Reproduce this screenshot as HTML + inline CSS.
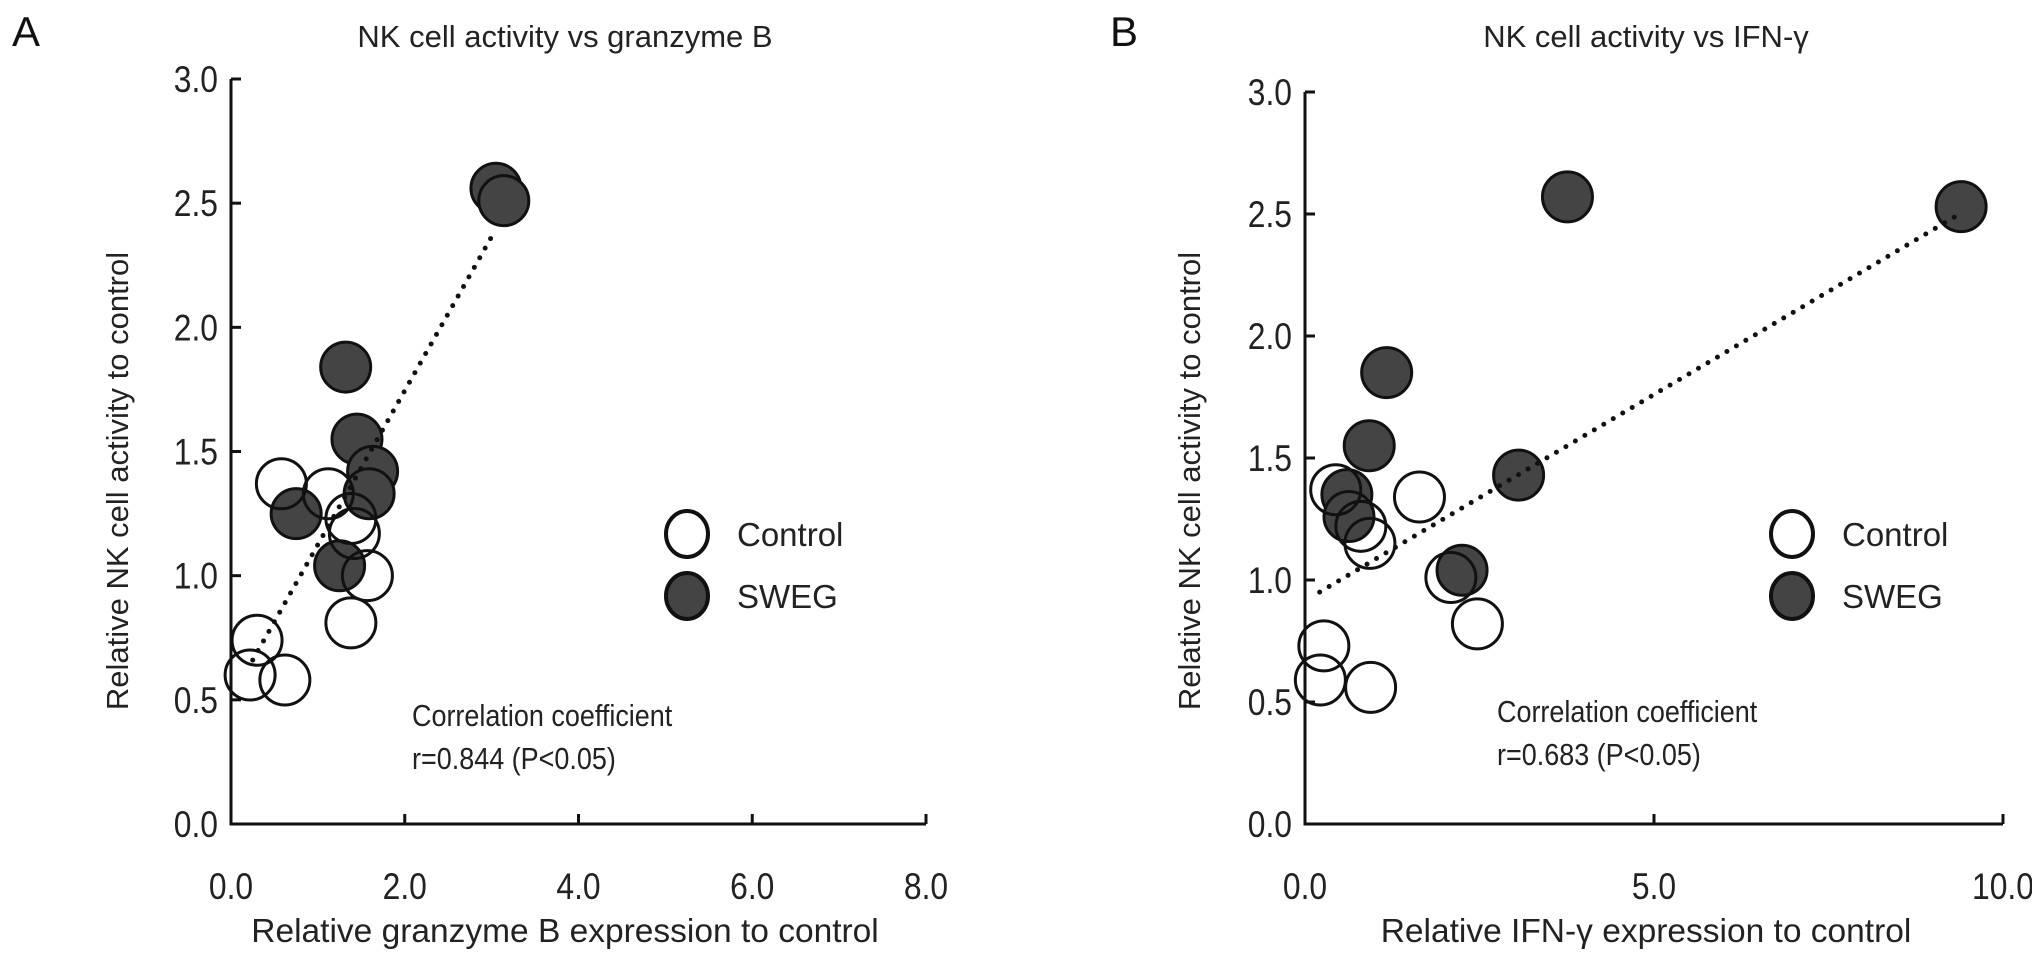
<!DOCTYPE html>
<html><head><meta charset="utf-8"><style>
html,body{margin:0;padding:0;background:#fff;}
svg{display:block;font-family:"Liberation Sans",sans-serif;}
</style></head><body>
<svg id="fig" width="2032" height="960" viewBox="0 0 2032 960"></svg>
<script>
// Panel A data
const aCtrlX=[0.58,1.12,1.38,1.42,1.57,1.38,0.30,0.22,0.62];
const aCtrlY=[1.37,1.33,1.23,1.17,1.00,0.81,0.74,0.60,0.58];
const aSwegX=[3.05,3.14,1.32,1.45,1.63,1.59,0.75,1.25];
const aSwegY=[2.56,2.51,1.84,1.55,1.42,1.33,1.25,1.04];
const aTrendX=[0.25,3.05];
const aTrendCoef=[0.505,0.62];
const aXTicks=[0,2,4,6,8];
const aXTickLabels=["0.0","2.0","4.0","6.0","8.0"];
const yTicks=[0,0.5,1,1.5,2,2.5,3];
const yTickLabels=["0.0","0.5","1.0","1.5","2.0","2.5","3.0"];
// Panel B data
const bCtrlX=[0.44,1.64,0.80,0.93,2.09,2.47,0.27,0.22,0.94];
const bCtrlY=[1.37,1.34,1.22,1.15,1.01,0.82,0.73,0.59,0.56];
const bSwegX=[3.76,9.40,1.17,0.92,0.60,0.63,3.06,2.25];
const bSwegY=[2.57,2.53,1.85,1.55,1.35,1.26,1.43,1.04];
const bTrendX=[0.21,9.38];
const bTrendCoef=[0.915,0.169];
const bXTicks=[0,5,10];
const bXTickLabels=["0.0","5.0","10.0"];

const NS="http://www.w3.org/2000/svg";
const svg=document.getElementById('fig');
function mk(tag,attrs,parent,text){
  const e=document.createElementNS(NS,tag);
  for(const k in attrs)e.setAttribute(k,attrs[k]);
  if(text!==undefined)e.textContent=text;
  (parent||svg).appendChild(e);return e;
}
function panel(p){
  const g=mk('g',{});
  
  
  const sx=v=>p.x0+(v-p.xmin)/(p.xmax-p.xmin)*(p.x1-p.x0);
  const sy=v=>p.y0-(v/3)*(p.y0-p.y1);
  const letter=mk('text',{x:p.letterX,y:46,'font-size':42,fill:'#111'},g,p.letter);
  
  
  const t=mk('text',{x:p.cx,y:47,'font-size':31,'text-anchor':'middle',fill:'#222'},g,p.title);
  
  
  const ax=mk('path',{d:`M${p.x0},${p.y1} V${p.y0} H${p.x1}`,stroke:'#111','stroke-width':3,fill:'none'},g);
  
  
  yTicks.forEach((v,i)=>{
    const y=sy(v);
    const tk=mk('line',{x1:p.x0,x2:p.x0+10,y1:y,y2:y,stroke:'#111','stroke-width':3},g);
    
    
    const l=mk('text',{x:0,y:0,'font-size':37,'text-anchor':'end',fill:'#222',transform:`translate(${p.x0-13},${y+13}) scale(0.86,1)`},g,yTickLabels[i]);
    
    
  });
  p.xt.forEach((v,i)=>{
    const x=sx(v);
    const tk=mk('line',{x1:x,x2:x,y1:p.y0,y2:p.y0-10,stroke:'#111','stroke-width':3},g);
    
    
    const l=mk('text',{x:0,y:0,'font-size':37,'text-anchor':'middle',fill:'#222',transform:`translate(${x},899) scale(0.86,1)`},g,p.xtl[i]);
    
    
  });
  const xl=mk('text',{x:p.cx,y:942,'font-size':33.5,'text-anchor':'middle',fill:'#222'},g,p.xlabel);
  
  
  const yl=mk('text',{x:0,y:0,'font-size':31,'text-anchor':'middle',fill:'#222',transform:`translate(${p.ylx},${p.yly}) rotate(-90)`},g,'Relative NK cell activity to control');
  
  
  p.sX.forEach((v,i)=>{
    const c=mk('circle',{cx:sx(v),cy:sy(p.sY[i]),r:25,fill:'#444',stroke:'#111','stroke-width':3},g);
    
    
  });
  p.cX.forEach((v,i)=>{
    const c=mk('circle',{cx:sx(v),cy:sy(p.cY[i]),r:25,fill:'none',stroke:'#111','stroke-width':3},g);
    
    
  });
  const f=x=>p.coef[0]+p.coef[1]*x;
  const tl=mk('line',{x1:sx(p.tX[0]),y1:sy(f(p.tX[0])),x2:sx(p.tX[1]),y2:sy(f(p.tX[1])),stroke:'#111','stroke-width':5,'stroke-dasharray':'0 11','stroke-linecap':'round'},g);
  
  
  const lc=mk('ellipse',{cx:p.lgx,cy:534,rx:21,ry:23,fill:'#fff',stroke:'#111','stroke-width':4},g);
  
  
  const lct=mk('text',{x:p.lgx+50,y:546,'font-size':33,fill:'#222'},g,'Control');
  
  
  const ls=mk('ellipse',{cx:p.lgx,cy:596,rx:21,ry:23,fill:'#444',stroke:'#111','stroke-width':4},g);
  
  
  const lst=mk('text',{x:p.lgx+50,y:608,'font-size':33,fill:'#222'},g,'SWEG');
  
  
  const c1=mk('text',{x:p.ccx,y:p.ccy,'font-size':31,fill:'#222',transform:`translate(${p.ccx*0.13},0) scale(0.87,1)`},g,'Correlation coefficient');
  
  
  const c2=mk('text',{x:p.ccx,y:p.ccy+43,'font-size':31,fill:'#222',transform:`translate(${p.ccx*0.13},0) scale(0.87,1)`},g,p.rtext);
  
  
}
panel({id:'a',letter:'A',letterX:12,title:'NK cell activity vs granzyme B',cx:565,x0:231,x1:926,xmin:0,xmax:8,y0:824,y1:79,
  xt:aXTicks,xtl:aXTickLabels,xlabel:'Relative granzyme B expression to control',ylx:128,yly:481,
  cX:aCtrlX,cY:aCtrlY,sX:aSwegX,sY:aSwegY,tX:aTrendX,coef:aTrendCoef,lgx:687,ccx:412,ccy:726,rtext:'r=0.844 (P<0.05)'});
panel({id:'b',letter:'B',letterX:1110,title:'NK cell activity vs IFN-\u03b3',cx:1646,x0:1305,x1:2003,xmin:0,xmax:10,y0:824,y1:92,
  xt:bXTicks,xtl:bXTickLabels,xlabel:'Relative IFN-\u03b3 expression to control',ylx:1200,yly:481,
  cX:bCtrlX,cY:bCtrlY,sX:bSwegX,sY:bSwegY,tX:bTrendX,coef:bTrendCoef,lgx:1792,ccx:1497,ccy:722,rtext:'r=0.683 (P<0.05)'});
</script>
</body></html>
